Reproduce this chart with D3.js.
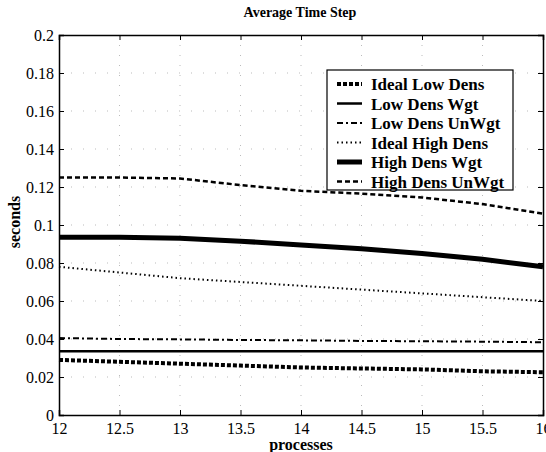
<!DOCTYPE html>
<html>
<head>
<meta charset="utf-8">
<script src="https://cdn.jsdelivr.net/npm/d3@7"></script>
<style>
  body { margin: 0; background: #fff; }
  text { font-family: "Liberation Serif", "DejaVu Serif", serif; fill: #000; }
</style>
</head>
<body>
<div id="chart"></div>
<script>
// data
var processes = [12, 12.5, 13, 13.5, 14, 14.5, 15, 15.5, 16];
var idealLowDens   = [0.029, 0.028, 0.027, 0.026, 0.025, 0.0245, 0.024, 0.023, 0.0225];
var lowDensWgt     = [0.0335, 0.0335, 0.0335, 0.0335, 0.0335, 0.0335, 0.0335, 0.0335, 0.0335];
var lowDensUnWgt   = [0.0405, 0.040, 0.0398, 0.0395, 0.0393, 0.039, 0.0388, 0.0386, 0.0383];
var idealHighDens  = [0.078, 0.075, 0.072, 0.070, 0.068, 0.066, 0.064, 0.062, 0.060];
var highDensWgt    = [0.0935, 0.0935, 0.093, 0.0915, 0.0895, 0.0875, 0.085, 0.082, 0.078];
var highDensUnWgt  = [0.125, 0.125, 0.1245, 0.121, 0.118, 0.1165, 0.1145, 0.111, 0.106];
var seriesNames = ["Ideal Low Dens", "Low Dens Wgt", "Low Dens UnWgt", "Ideal High Dens", "High Dens Wgt", "High Dens UnWgt"];
var xTicks = [12, 12.5, 13, 13.5, 14, 14.5, 15, 15.5, 16];
var yTicks = [0, 0.02, 0.04, 0.06, 0.08, 0.1, 0.12, 0.14, 0.16, 0.18, 0.2];

var series = [
  { name: seriesNames[0], values: idealLowDens,  width: 4,   dash: "4,2" },
  { name: seriesNames[1], values: lowDensWgt,    width: 2.5, dash: null },
  { name: seriesNames[2], values: lowDensUnWgt,  width: 2,   dash: "6,3,2,3" },
  { name: seriesNames[3], values: idealHighDens, width: 2,   dash: "1.5,3" },
  { name: seriesNames[4], values: highDensWgt,   width: 5,   dash: null },
  { name: seriesNames[5], values: highDensUnWgt, width: 2.5, dash: "5,3" }
];

var serif = '"Liberation Serif", "DejaVu Serif", serif';
var margin = { top: 35, left: 59 };

var svg = d3.select("#chart")
  .append("svg")
  .attr("width", 546)
  .attr("height", 452);

var g = svg.append("g")
  .attr("transform", "translate(" + margin.left + "," + margin.top + ")");

var x = d3.scaleLinear().domain([12, 16]).range([0, 484]);
var y = d3.scaleLinear().domain([0, 0.2]).range([380, 0]);

// faint dotted grid
g.append("g")
  .selectAll("line")
  .data(xTicks.slice(1, -1))
  .enter().append("line")
  .attr("x1", function (d) { return x(d); })
  .attr("x2", function (d) { return x(d); })
  .attr("y1", 0).attr("y2", 380)
  .attr("stroke", "#bbb").attr("stroke-width", 1)
  .attr("stroke-dasharray", "1,9");
g.append("g")
  .selectAll("line")
  .data(yTicks.slice(1, -1))
  .enter().append("line")
  .attr("y1", function (d) { return y(d); })
  .attr("y2", function (d) { return y(d); })
  .attr("x1", 0).attr("x2", 484)
  .attr("stroke", "#bbb").attr("stroke-width", 1)
  .attr("stroke-dasharray", "1,11");

// lines
var line = d3.line()
  .x(function (d, i) { return x(processes[i]); })
  .y(function (d) { return y(d); });

series.forEach(function (s) {
  g.append("path")
    .datum(s.values)
    .attr("d", line)
    .attr("fill", "none")
    .attr("stroke", "#000")
    .attr("stroke-width", s.width)
    .attr("stroke-dasharray", s.dash);
});

// axes with inward ticks
var xAxis = g.append("g")
  .attr("transform", "translate(0,380)")
  .call(d3.axisBottom(x).tickValues(xTicks).tickSize(-5).tickPadding(8)
    .tickFormat(function (d) { return d3.format("")(d); }));
var yAxis = g.append("g")
  .call(d3.axisLeft(y).tickValues(yTicks).tickSize(-5).tickPadding(5)
    .tickFormat(function (d) { return d === 0 ? "0" : d3.format("")(+d.toFixed(2)); }));
g.append("g")
  .attr("transform", "translate(484,0)")
  .call(d3.axisRight(y).tickValues(yTicks).tickSize(-5).tickFormat(""));
g.append("g")
  .call(d3.axisTop(x).tickValues(xTicks).tickSize(-5).tickFormat(""));

g.selectAll(".domain").attr("stroke", "#000").attr("stroke-width", 1.5);
g.selectAll(".tick line").attr("stroke", "#000");
[xAxis, yAxis].forEach(function (a) {
  a.attr("font-family", serif).attr("font-size", 16);
  a.selectAll("text").style("font-size", "16px").style("font-family", serif);
});

// legend
var legend = g.append("g").attr("transform", "translate(268,35)");
legend.append("rect")
  .attr("width", 186).attr("height", 120)
  .attr("fill", "#fff").attr("stroke", "#000").attr("stroke-width", 1.2);
series.forEach(function (s, i) {
  var ly = 14 + i * 19.5;
  legend.append("line")
    .attr("x1", 10).attr("x2", 35)
    .attr("y1", ly).attr("y2", ly)
    .attr("stroke", "#000")
    .attr("stroke-width", s.width)
    .attr("stroke-dasharray", s.dash);
  legend.append("text")
    .attr("x", 44).attr("y", ly + 6)
    .style("font-size", "17px").style("font-weight", "bold")
    .text(s.name);
});

// title and labels
svg.append("text")
  .attr("x", 300).attr("y", 17)
  .attr("text-anchor", "middle")
  .style("font-size", "14px").style("font-weight", "bold")
  .text("Average Time Step");
svg.append("text")
  .attr("x", 301).attr("y", 450)
  .attr("text-anchor", "middle")
  .style("font-size", "16px").style("font-weight", "bold")
  .text("processes");
svg.append("text")
  .attr("transform", "translate(20,222) rotate(-90)")
  .attr("text-anchor", "middle")
  .style("font-size", "16px").style("font-weight", "bold")
  .text("seconds");
</script>
</body>
</html>
